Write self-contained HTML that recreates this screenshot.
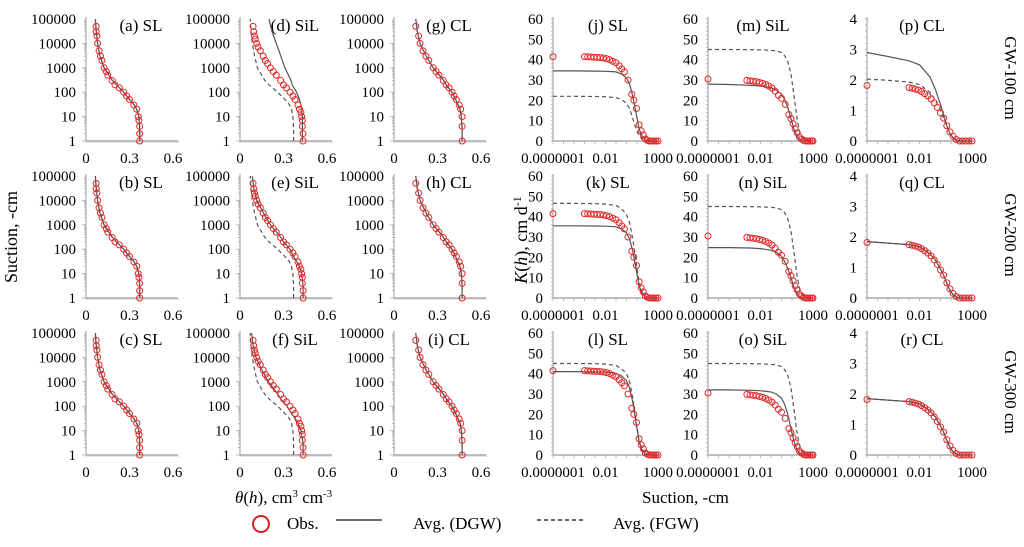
<!DOCTYPE html>
<html><head><meta charset="utf-8"><style>
html,body{margin:0;padding:0;background:#fff;}
svg{display:block;font-family:"Liberation Serif",serif;}
</style></head><body>
<svg id="fig" width="1024" height="547" viewBox="0 0 1024 547" xmlns="http://www.w3.org/2000/svg">
<text x="17" y="237" font-size="18" text-anchor="middle" transform="rotate(-90 17 237)">Suction, -cm</text>
<text x="527" y="240" font-size="18" text-anchor="middle" transform="rotate(-90 527 240)"><tspan font-style="italic">K</tspan>(<tspan font-style="italic">h</tspan>), cm d<tspan dy="-6" font-size="12">-1</tspan></text>
<text x="235" y="503" font-size="17"><tspan font-style="italic">θ</tspan>(<tspan font-style="italic">h</tspan>), cm<tspan dy="-6" font-size="11">3</tspan><tspan dy="6"> cm</tspan><tspan dy="-6" font-size="11">-3</tspan></text>
<text x="642" y="503" font-size="17">Suction, -cm</text>
<text x="1005" y="78" font-size="17" text-anchor="middle" transform="rotate(90 1005 78)">GW-100 cm</text>
<text x="1005" y="235" font-size="17" text-anchor="middle" transform="rotate(90 1005 235)">GW-200 cm</text>
<text x="1005" y="392" font-size="17" text-anchor="middle" transform="rotate(90 1005 392)">GW-300 cm</text>
<g>
<circle cx="261" cy="524" r="8" fill="none" stroke="#d42020" stroke-width="2"/>
<text x="287" y="529" font-size="17">Obs.</text>
<line x1="336" y1="520" x2="382" y2="520" stroke="#666" stroke-width="2"/>
<text x="413" y="529" font-size="17">Avg. (DGW)</text>
<line x1="537" y1="520" x2="584" y2="520" stroke="#666" stroke-width="2" stroke-dasharray="4,3"/>
<text x="613" y="529" font-size="17">Avg. (FGW)</text>
</g>
</svg>
<script>
// ---- water retention data (log10 suction grid, theta) ----
const thGrid = [0,0.5,1,1.3,1.5,1.7,2,2.3,2.5,3,3.5,4,4.5,5];
const thSL = [.37,.37,.365,.35,.33,.30,.26,.21,.18,.125,.095,.08,.07,.065];
const thCL = [.47,.47,.465,.455,.44,.425,.40,.36,.34,.27,.22,.18,.16,.15];
const thSiL_d_solid = [.43,.43,.43,.425,.42,.41,.39,.36,.35,.31,.28,.25,.22,.20];
const thSiL_e_solid = [.435,.435,.425,.41,.39,.37,.345,.3,.28,.21,.16,.115,.095,.085];
const thSiL_f_solid = [.435,.435,.42,.40,.38,.355,.325,.28,.26,.195,.15,.11,.09,.08];
const thSiL_dashed = [.37,.37,.365,.355,.34,.31,.26,.2,.17,.12,.1,.085,.075,.07];
const obsThSL = [[1,.37],[2,.37],[4,.37],[7,.365],[10,.36],[20,.35],[30,.33],[50,.30],[70,.28],[100,.26],[150,.23],[200,.2],[300,.18],[500,.15],[700,.14],[1000,.125],[2000,.11],[3000,.1],[5000,.09],[10000,.08],[20000,.075],[30000,.07],[50000,.07]];
const obsThSiL = [[1,.435],[2,.435],[4,.43],[7,.43],[10,.425],[15,.42],[20,.41],[30,.4],[50,.38],[70,.365],[100,.345],[150,.32],[200,.3],[300,.28],[500,.25],[700,.23],[1000,.21],[1500,.19],[2000,.175],[3000,.16],[5000,.14],[7000,.125],[10000,.115],[15000,.105],[20000,.1],[30000,.095],[50000,.09]];
const obsThCL = [[1,.47],[4,.47],[10,.47],[20,.46],[30,.45],[50,.43],[70,.415],[100,.40],[150,.38],[200,.36],[300,.34],[500,.31],[700,.29],[1000,.27],[2000,.24],[3000,.22],[5000,.2],[10000,.18],[20000,.17],[50000,.15]];
// ---- conductivity data (log10 suction grid, K) ----
const kGrid = [-7,-5,-3,-2,-1,-0.5,0,0.3,0.6,0.9,1.2,1.5,1.8,2.2,3];
const kJ_solid = [34.5,34.5,34.4,34.3,34,33,31,28,22,14,6,2,0.5,0,0];
const kJ_dashed = [22,22,21.9,21.8,21.3,20.5,18.5,16,11,6,2.5,0.8,0.2,0,0];
const kK_solid = [35.5,35.5,35.4,35.3,35,34,32,29,23,14.5,6,2,0.5,0,0];
const kK_dashed = [46.5,46.5,46.4,46.2,45.5,44,41,37,29,18,7.5,2.5,0.6,0,0];
const kL_solid = [41,41,40.9,40.7,40.2,39,36.5,33,26,16,6.5,2,0.5,0,0];
const kL_dashed = [45,45,44.9,44.7,44,42.5,40,36,28,17,7,2.3,0.6,0,0];
const kM_solid = [28,27.8,27.4,27,26.2,25,23,20.5,16.5,11,5.5,2,0.5,0,0];
const kN_solid = [24.8,24.8,24.6,24.3,23.5,22.5,20.5,18,14.5,10,5,1.8,0.4,0,0];
const kO_solid = [32,32,31.8,31.6,31,30,28,25,20,13,6.5,2.2,0.5,0,0];
const kSiL_dashed = [45,45,44.9,44.8,44.6,44.3,43.5,42,39,33,22,10,3,0.2,0];
const kP_solid = [2.9,2.77,2.63,2.5,2.1,1.7,1.2,0.85,0.5,0.25,0.1,0.03,0,0,0];
const kP_dashed = [2.03,1.99,1.93,1.85,1.6,1.35,1.0,0.75,0.48,0.25,0.1,0.03,0,0,0];
const kQR_curve = [1.85,1.8,1.75,1.68,1.45,1.25,0.95,0.75,0.48,0.25,0.1,0.03,0,0,0];
const obsKSL = [[-7,41.5],[-4,41.5],[-3.7,41.4],[-3.4,41.3],[-3.1,41.2],[-2.8,41.1],[-2.5,41],[-2.2,40.8],[-1.9,40.5],[-1.6,40],[-1.3,39.2],[-1,38.5],[-0.7,37],[-0.45,35.5],[-0.2,34],[0.14,30],[0.5,23],[0.7,20],[0.95,16],[1.2,8],[1.4,5],[1.6,3],[1.8,1],[2,0.3],[2.2,0],[2.4,0],[2.6,0],[2.8,0],[3,0]];
const obsKSiL = [[-7,30.5],[-3.3,29.8],[-3,29.6],[-2.7,29.4],[-2.4,29.2],[-2.1,28.8],[-1.8,28.4],[-1.5,27.8],[-1.2,27],[-0.9,26],[-0.6,24.5],[-0.3,22.5],[0,21],[0.35,18],[0.7,13],[0.9,11],[1.1,8.5],[1.3,6],[1.5,4],[1.7,2],[1.9,1],[2.1,0.3],[2.3,0],[2.5,0],[2.7,0],[2.9,0],[3,0]];
const obsKCL = [[-7,1.82],[-3,1.75],[-2.7,1.73],[-2.4,1.7],[-2.1,1.67],[-1.8,1.62],[-1.5,1.55],[-1.2,1.47],[-0.9,1.38],[-0.6,1.25],[-0.3,1.1],[0,0.92],[0.3,0.75],[0.6,0.5],[0.9,0.3],[1.2,0.15],[1.5,0.05],[1.8,0],[2.1,0],[2.4,0],[2.7,0],[3,0]];
const thYTicks = ["1","10","100","1000","10000","100000"];
const thXTicks = ["0","0.3","0.6"];
const kXTicks = ["0.0000001","0.01","1000"];
const kXTickPos = [-7,-2,3];
const kYTicks60 = ["0","10","20","30","40","50","60"];
const kYTicks4 = ["0","1","2","3","4"];

const NS = "http://www.w3.org/2000/svg";
const svg = document.getElementById('fig');
function mk(tag, attrs, parent){const e=document.createElementNS(NS,tag);for(const k in attrs)e.setAttribute(k,attrs[k]);(parent||svg).appendChild(e);return e;}
const rowB = [141,298,455];
const AX = "#aaa";

function drawTheta(x0, yb, title, obs, solid, dashed, name){
  const g = mk('g',{});
  
  
  const xs = t => x0 + t/0.6*87;
  const ys = l => yb - l*24.4;
  // axes
  const ya = mk('line',{x1:x0,y1:ys(5)-2,x2:x0,y2:yb,stroke:AX,'stroke-width':1.2},g);
  
  
  const xa = mk('line',{x1:x0,y1:yb,x2:x0+92,y2:yb,stroke:AX,'stroke-width':1.5},g);
  
  
  for(let d=0; d<5; d++) for(let m=1;m<10;m++){const y=ys(d+Math.log10(m));mk('line',{x1:x0-(m==1?4:2),y1:y,x2:x0+(m==1?0:0),y2:y,stroke:AX,'stroke-width':0.8},g);}
  for(let i=0;i<=46;i++){const x=x0+i*2;mk('line',{x1:x,y1:yb,x2:x,y2:yb+2,stroke:AX,'stroke-width':0.6},g);}
  thYTicks.forEach((t,i)=>{const e=mk('text',{x:x0-10,y:ys(i)+5,'font-size':15,'text-anchor':'end'},g);e.textContent=t;
    
    });
  thXTicks.forEach((t,i)=>{const e=mk('text',{x:xs(i*0.3),y:yb+22,'font-size':15,'text-anchor':'middle'},g);e.textContent=t;
    
    });
  const tt = mk('text',{x:x0+55,y:yb-110,'font-size':17,'text-anchor':'middle'},g); tt.textContent=title;
  
  
  const pts = arr => arr.map((v,i)=>xs(v).toFixed(1)+','+ys(thGrid[i]).toFixed(1)).join(' ');
  const sl = mk('polyline',{points:pts(solid),fill:'none',stroke:'#555','stroke-width':1.2},g);
  
  
  const dl = mk('polyline',{points:pts(dashed),fill:'none',stroke:'#555','stroke-width':1.2,'stroke-dasharray':'4,3'},g);
  
  
  obs.forEach(p=>{const c=mk('circle',{cx:xs(p[1]),cy:ys(Math.log10(p[0])),r:3,fill:'none',stroke:'#e02828','stroke-width':1},g);
    
    });
}

function drawK(x0, yb, title, ymax, yTicks, obs, solid, dashed, name){
  const g = mk('g',{});
  
  
  const xs = l => x0 + (l+7)*10.5;
  const ys = v => yb - v/ymax*122;
  const ya = mk('line',{x1:x0,y1:ys(ymax)-2,x2:x0,y2:yb,stroke:AX,'stroke-width':1.2},g);
  
  
  const xa = mk('line',{x1:x0,y1:yb,x2:x0+107,y2:yb,stroke:AX,'stroke-width':1.5},g);
  
  
  const step = ymax/ (yTicks.length-1);
  for(let v=0; v<=ymax+1e-9; v+=step/5){const y=ys(v);mk('line',{x1:x0-2,y1:y,x2:x0,y2:y,stroke:AX,'stroke-width':0.8},g);}
  for(let l=-7;l<=3;l++){const x=xs(l);mk('line',{x1:x,y1:yb,x2:x,y2:yb+3,stroke:AX,'stroke-width':0.8},g);}
  yTicks.forEach((t,i)=>{const e=mk('text',{x:x0-10,y:ys(i*step)+5,'font-size':15,'text-anchor':'end'},g);e.textContent=t;
    
    });
  kXTicks.forEach((t,i)=>{const e=mk('text',{x:xs(kXTickPos[i]),y:yb+22,'font-size':15,'text-anchor':'middle'},g);e.textContent=t;
    
    });
  const tt = mk('text',{x:x0+55,y:yb-110,'font-size':17,'text-anchor':'middle'},g); tt.textContent=title;
  
  
  const pts = arr => arr.map((v,i)=>xs(kGrid[i]).toFixed(1)+','+ys(v).toFixed(1)).join(' ');
  const sl = mk('polyline',{points:pts(solid),fill:'none',stroke:'#555','stroke-width':1.2},g);
  
  
  const dl = mk('polyline',{points:pts(dashed),fill:'none',stroke:'#555','stroke-width':1.2,'stroke-dasharray':'4,3'},g);
  
  
  obs.forEach(p=>{const c=mk('circle',{cx:xs(p[0]),cy:ys(p[1]),r:3,fill:'none',stroke:'#e02828','stroke-width':1},g);
    
    });
}

drawTheta(86,rowB[0],'(a) SL',obsThSL,thSL,thSL,'panel-a');
drawTheta(86,rowB[1],'(b) SL',obsThSL,thSL,thSL,'panel-b');
drawTheta(86,rowB[2],'(c) SL',obsThSL,thSL,thSL,'panel-c');
drawTheta(240,rowB[0],'(d) SiL',obsThSiL,thSiL_d_solid,thSiL_dashed,'panel-d');
drawTheta(240,rowB[1],'(e) SiL',obsThSiL,thSiL_e_solid,thSiL_dashed,'panel-e');
drawTheta(240,rowB[2],'(f) SiL',obsThSiL,thSiL_f_solid,thSiL_dashed,'panel-f');
drawTheta(394,rowB[0],'(g) CL',obsThCL,thCL,thCL,'panel-g');
drawTheta(394,rowB[1],'(h) CL',obsThCL,thCL,thCL,'panel-h');
drawTheta(394,rowB[2],'(i) CL',obsThCL,thCL,thCL,'panel-i');
drawK(553,rowB[0],'(j) SL',60,kYTicks60,obsKSL,kJ_solid,kJ_dashed,'panel-j');
drawK(553,rowB[1],'(k) SL',60,kYTicks60,obsKSL,kK_solid,kK_dashed,'panel-k');
drawK(553,rowB[2],'(l) SL',60,kYTicks60,obsKSL,kL_solid,kL_dashed,'panel-l');
drawK(708,rowB[0],'(m) SiL',60,kYTicks60,obsKSiL,kM_solid,kSiL_dashed,'panel-m');
drawK(708,rowB[1],'(n) SiL',60,kYTicks60,obsKSiL,kN_solid,kSiL_dashed,'panel-n');
drawK(708,rowB[2],'(o) SiL',60,kYTicks60,obsKSiL,kO_solid,kSiL_dashed,'panel-o');
drawK(867,rowB[0],'(p) CL',4,kYTicks4,obsKCL,kP_solid,kP_dashed,'panel-p');
drawK(867,rowB[1],'(q) CL',4,kYTicks4,obsKCL,kQR_curve,kQR_curve,'panel-q');
drawK(867,rowB[2],'(r) CL',4,kYTicks4,obsKCL,kQR_curve,kQR_curve,'panel-r');
</script>
</body></html>
